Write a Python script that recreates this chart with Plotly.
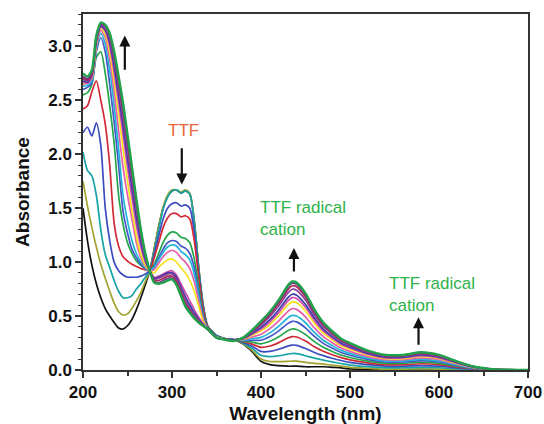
import plotly.graph_objects as go

wavelength = [200,205,210,215,220,225,230,235,240,245,250,255,260,265,270,275,
              280,285,290,295,300,305,310,315,320,325,330,335,340,
              350,360,370,
              380,390,400,410,420,430,435,440,450,460,470,480,490,500,520,540,560,580,600,620,640,660,700]

a00 = [1.50,1.20,0.97,0.80,0.67,0.57,0.50,0.44,0.39,0.38,0.41,0.47,0.56,0.67,0.79,0.92,
       1.12,1.33,1.50,1.61,1.66,1.67,1.64,1.66,1.63,1.38,0.95,0.60,0.41,
       0.32,0.29,0.28,
       0.24,0.17,0.08,0.05,0.04,0.035,0.035,0.035,0.03,0.03,0.03,0.025,0.02,0.01,0.005,0,0,0,0,0,0,0,0]
a01 = [1.75,1.52,1.32,1.14,0.98,0.85,0.73,0.62,0.54,0.51,0.52,0.57,0.64,0.72,0.82,0.92,
       1.12,1.33,1.51,1.62,1.67,1.67,1.65,1.67,1.64,1.38,0.95,0.60,0.41,
       0.32,0.29,0.28,
       0.244,0.182,0.102,0.079,0.077,0.080,0.082,0.082,0.071,0.062,0.055,0.045,0.036,0.024,0.016,0.008,0.008,0.010,0.008,0.005,0.002,0,0]
a02 = [2.02,1.85,1.80,1.62,1.30,1.07,0.95,0.83,0.73,0.67,0.67,0.69,0.75,0.80,0.86,0.92,
       1.10,1.30,1.49,1.60,1.66,1.67,1.64,1.66,1.63,1.37,0.94,0.60,0.41,
       0.32,0.29,0.28,
       0.249,0.200,0.136,0.124,0.132,0.147,0.153,0.151,0.132,0.110,0.092,0.075,0.060,0.046,0.031,0.021,0.021,0.025,0.021,0.012,0.005,0.001,0]
a03 = [2.20,2.25,2.17,2.29,2.08,1.50,1.20,1.00,0.92,0.88,0.86,0.86,0.86,0.87,0.89,0.92,
       1.07,1.24,1.40,1.50,1.54,1.55,1.52,1.53,1.50,1.28,0.90,0.58,0.40,
       0.315,0.29,0.28,
       0.255,0.220,0.172,0.172,0.192,0.221,0.231,0.229,0.200,0.163,0.133,0.109,0.088,0.070,0.049,0.035,0.035,0.041,0.035,0.020,0.008,0.002,0]
a04 = [2.42,2.45,2.58,2.68,2.50,2.28,1.90,1.36,1.15,1.05,1.01,0.98,0.96,0.94,0.93,0.92,
       1.04,1.18,1.32,1.41,1.45,1.45,1.42,1.43,1.40,1.20,0.86,0.56,0.40,
       0.31,0.29,0.28,
       0.261,0.240,0.210,0.222,0.254,0.296,0.310,0.306,0.268,0.216,0.174,0.142,0.115,0.094,0.066,0.049,0.049,0.058,0.049,0.028,0.011,0.003,0]
a05 = [2.55,2.57,2.65,2.90,2.95,2.75,2.45,2.10,1.62,1.35,1.18,1.08,1.01,0.97,0.94,0.92,
       0.98,1.08,1.18,1.25,1.28,1.27,1.23,1.22,1.18,1.03,0.77,0.52,0.39,
       0.31,0.29,0.28,
       0.266,0.258,0.243,0.266,0.308,0.363,0.380,0.376,0.329,0.263,0.210,0.172,0.139,0.116,0.082,0.062,0.062,0.073,0.062,0.035,0.013,0.004,0]
a06 = [2.60,2.62,2.66,2.95,3.08,2.95,2.65,2.30,1.90,1.47,1.27,1.12,1.04,0.98,0.94,0.92,
       0.96,1.04,1.12,1.18,1.20,1.19,1.15,1.13,1.08,0.95,0.72,0.50,0.39,
       0.31,0.29,0.28,
       0.272,0.276,0.276,0.310,0.363,0.430,0.451,0.446,0.390,0.311,0.247,0.203,0.163,0.137,0.098,0.074,0.074,0.087,0.074,0.042,0.016,0.004,0]
a07 = [2.63,2.64,2.68,2.98,3.12,3.02,2.78,2.45,2.05,1.62,1.38,1.20,1.08,1.00,0.95,0.92,
       0.95,1.02,1.09,1.14,1.16,1.15,1.10,1.07,1.02,0.89,0.68,0.48,0.38,
       0.305,0.285,0.28,
       0.276,0.290,0.302,0.344,0.406,0.482,0.506,0.500,0.438,0.348,0.276,0.226,0.182,0.154,0.110,0.084,0.084,0.099,0.084,0.048,0.018,0.005,0]
a08 = [2.65,2.66,2.70,3.00,3.15,3.08,2.88,2.58,2.22,1.88,1.62,1.40,1.18,1.04,0.96,0.92,
       0.93,0.99,1.05,1.09,1.11,1.09,1.04,1.00,0.94,0.82,0.64,0.47,0.38,
       0.305,0.285,0.28,
       0.281,0.306,0.332,0.383,0.455,0.542,0.569,0.562,0.492,0.390,0.309,0.253,0.204,0.173,0.124,0.095,0.095,0.112,0.095,0.054,0.020,0.005,0]
a09 = [2.66,2.67,2.71,3.02,3.17,3.11,2.95,2.68,2.38,2.05,1.75,1.48,1.24,1.07,0.97,0.92,
       0.90,0.95,0.99,1.02,1.03,1.00,0.95,0.90,0.83,0.73,0.59,0.45,0.38,
       0.305,0.285,0.28,
       0.286,0.322,0.361,0.422,0.504,0.601,0.632,0.624,0.547,0.433,0.342,0.280,0.225,0.192,0.138,0.106,0.106,0.125,0.106,0.061,0.023,0.006,0]
a10 = [2.67,2.66,2.72,3.03,3.18,3.14,3.00,2.76,2.48,2.18,1.88,1.60,1.34,1.14,1.00,0.92,
       0.86,0.87,0.89,0.91,0.92,0.88,0.80,0.72,0.64,0.56,0.49,0.43,0.38,
       0.30,0.285,0.28,
       0.289,0.332,0.380,0.447,0.534,0.638,0.671,0.663,0.581,0.459,0.362,0.296,0.239,0.204,0.147,0.113,0.113,0.134,0.113,0.065,0.024,0.006,0]
a11 = [2.68,2.67,2.73,3.05,3.19,3.155,3.035,2.815,2.55,2.26,1.965,1.68,1.41,1.185,1.025,0.92,
       0.85,0.86,0.88,0.90,0.90,0.86,0.77,0.68,0.60,0.53,0.47,0.42,0.38,
       0.30,0.285,0.28,
       0.291,0.340,0.395,0.467,0.559,0.668,0.702,0.694,0.608,0.481,0.379,0.310,0.250,0.214,0.154,0.119,0.119,0.140,0.119,0.068,0.026,0.007,0]
a12 = [2.70,2.68,2.74,3.07,3.20,3.17,3.07,2.87,2.62,2.34,2.05,1.76,1.48,1.23,1.05,0.92,
       0.84,0.85,0.87,0.89,0.89,0.84,0.75,0.65,0.57,0.51,0.46,0.42,0.38,
       0.30,0.285,0.28,
       0.295,0.352,0.417,0.496,0.595,0.713,0.749,0.740,0.649,0.512,0.403,0.330,0.266,0.228,0.164,0.127,0.127,0.150,0.127,0.073,0.027,0.007,0]
a13 = [2.71,2.69,2.75,3.08,3.21,3.19,3.10,2.91,2.67,2.41,2.12,1.82,1.53,1.27,1.07,0.92,
       0.83,0.83,0.85,0.87,0.87,0.82,0.72,0.62,0.55,0.49,0.45,0.41,0.38,
       0.30,0.285,0.28,
       0.297,0.360,0.432,0.516,0.620,0.743,0.781,0.771,0.676,0.534,0.420,0.343,0.277,0.238,0.171,0.133,0.133,0.157,0.133,0.076,0.029,0.008,0]
a14 = [2.72,2.70,2.76,3.09,3.21,3.195,3.11,2.94,2.70,2.45,2.16,1.86,1.56,1.29,1.07,0.92,
       0.82,0.81,0.83,0.85,0.85,0.80,0.70,0.60,0.54,0.48,0.44,0.41,0.38,
       0.30,0.285,0.28,
       0.299,0.366,0.443,0.530,0.638,0.765,0.804,0.795,0.696,0.549,0.432,0.353,0.285,0.245,0.176,0.137,0.137,0.162,0.137,0.078,0.029,0.008,0]
a15 = [2.75,2.72,2.78,3.10,3.22,3.20,3.12,2.95,2.72,2.47,2.18,1.88,1.58,1.30,1.08,0.92,
       0.81,0.80,0.81,0.83,0.84,0.79,0.69,0.59,0.53,0.48,0.44,0.41,0.38,
       0.30,0.28,0.27,
       0.300,0.370,0.450,0.540,0.650,0.780,0.820,0.810,0.710,0.560,0.440,0.360,0.290,0.250,0.180,0.140,0.140,0.165,0.140,0.080,0.030,0.008,0]

spectra = [a00, a01, a02, a03, a04, a05, a06, a07, a08, a09, a10, a11, a12, a13, a14, a15]
colors = ["#111111", "#A3A332", "#18A3A6", "#3B4BC0", "#D12A35", "#23A64A",
          "#4457C6", "#22B5DA", "#E35FA9", "#F3E31E", "#D24BAA", "#3A3FA6",
          "#8A3D9E", "#A8284E", "#7D3296", "#1FA24A"]
widths = [1.7]*15 + [2.5]

fig = go.Figure()
for y, c, w in zip(spectra, colors, widths):
    fig.add_trace(go.Scatter(x=wavelength, y=y, mode="lines",
                             line=dict(color=c, width=w, shape="spline", smoothing=0.7),
                             showlegend=False, hoverinfo="skip"))

font_family = "Liberation Sans, Arial, sans-serif"
axis_common = dict(showline=True, linecolor="#333333", linewidth=1.5, mirror=True,
                   ticks="outside", tickcolor="#333333", tickwidth=1.5,
                   showgrid=False, zeroline=False, automargin=False,
                   tickfont=dict(family=font_family, size=17, color="#111111", weight="bold"))

fig.update_xaxes(range=[200, 700], dtick=100, ticklen=6,
                 minor=dict(dtick=50, ticks="outside", ticklen=4, tickcolor="#333333", tickwidth=1.5),
                 title=dict(text="Wavelength (nm)", standoff=8,
                            font=dict(family=font_family, size=19, color="#111111", weight="bold")),
                 **axis_common)
fig.update_yaxes(range=[0, 3.3], dtick=0.5, tickformat=".1f", ticklen=6,
                 minor=dict(dtick=0.1, ticks="outside", ticklen=3, tickcolor="#333333", tickwidth=1.2),
                 title=dict(text="Absorbance", standoff=14,
                            font=dict(family=font_family, size=19, color="#111111", weight="bold")),
                 **axis_common)

green = "#2DB34A"
label_font = dict(family=font_family, size=17)
annotations = [
    dict(x=313, y=2.22, text="TTF", showarrow=False, font=dict(color="#E8673A", **label_font)),
    dict(x=397, y=1.40, text="TTF radical<br>cation", showarrow=False, xanchor="left",
         align="left", font=dict(color=green, **label_font)),
    dict(x=542, y=0.70, text="TTF radical<br>cation", showarrow=False, xanchor="left",
         align="left", font=dict(color=green, **label_font)),
]
# (head_x, head_y, tail_x, tail_y)
arrows = [
    (311, 1.72, 311, 2.07),
    (247, 3.10, 247, 2.77),
    (437, 1.13, 437, 0.90),
    (577, 0.49, 577, 0.22),
]
for x0, y0, ax0, ay0 in arrows:
    annotations.append(dict(x=x0, y=y0, ax=ax0, ay=ay0, xref="x", yref="y",
                            axref="x", ayref="y", showarrow=True, arrowhead=2,
                            arrowsize=1, arrowwidth=2.2, arrowcolor="#111111", text=""))

fig.update_layout(width=544, height=424, margin=dict(l=83, r=16, t=14, b=54),
                  plot_bgcolor="white", paper_bgcolor="white",
                  annotations=annotations, font=dict(family=font_family))

fig.write_html("out.html")
